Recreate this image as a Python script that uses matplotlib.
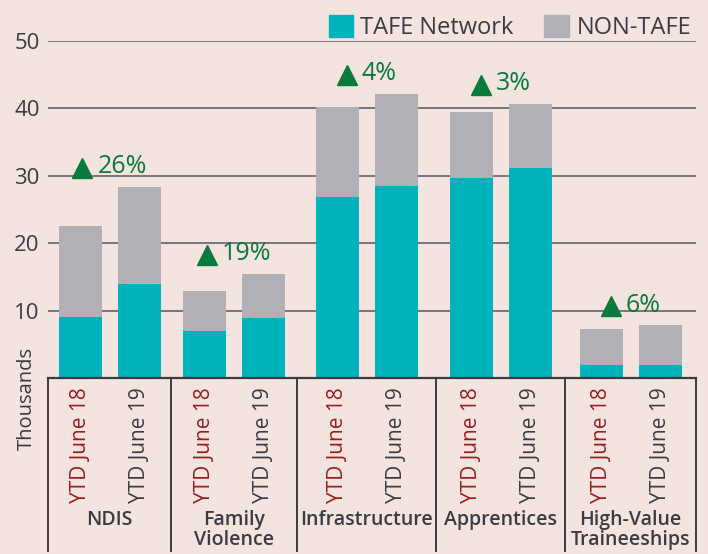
import numpy as np
import matplotlib.pyplot as plt
from matplotlib.transforms import blended_transform_factory, offset_copy
from matplotlib.patches import Patch

plt.rcParams['font.family'] = ['Open Sans', 'DejaVu Sans']

# data (thousands)
groups = ['NDIS', 'Family\nViolence', 'Infrastructure', 'Apprentices', 'High-Value\nTraineeships']
periods = ['YTD June 18', 'YTD June 19']
tafe_18 = [9.0, 6.9, 26.8, 29.6, 2.0]
tafe_19 = [14.0, 8.85, 28.5, 31.2, 2.0]
total_18 = [22.5, 12.85, 40.1, 39.5, 7.2]
total_19 = [28.3, 15.4, 42.1, 40.6, 7.8]
growth = ['26%', '19%', '4%', '3%', '6%']

bg = '#f3e4df'
teal = '#00b2bc'
grey = '#b1b0b6'
dark = '#3b3b43'
green = '#087a3b'
red = '#9a1c1c'

# layout: width of each category block (pixel-like units)
block_w = np.array([123, 126, 139, 129, 131])
edges = np.concatenate([[0], np.cumsum(block_w)])
x = (edges[:-1] + edges[1:]) / 2
off = 29.5
w = 43

fig = plt.figure(figsize=(7.08, 5.54), dpi=100, facecolor=bg)
ax = fig.add_axes([0.0678, 0.3177, 0.9153, 0.6088], facecolor=bg)

non_18 = np.array(total_18) - np.array(tafe_18)
non_19 = np.array(total_19) - np.array(tafe_19)

ax.bar(x - off, tafe_18, w, color=teal, zorder=3)
ax.bar(x - off, non_18, w, bottom=tafe_18, color=grey, zorder=3)
ax.bar(x + off, tafe_19, w, color=teal, zorder=3)
ax.bar(x + off, non_19, w, bottom=tafe_19, color=grey, zorder=3)

ax.set_xlim(edges[0], edges[-1])
ax.set_ylim(0, 50)
ax.set_yticks([10, 20, 30, 40, 50])
ax.yaxis.grid(True, color='#6e6d74', linewidth=1.3, zorder=1)
ax.tick_params(axis='y', length=0, pad=6, labelsize=16, labelcolor=dark)
for s in ['top', 'right', 'left']:
    ax.spines[s].set_visible(False)
ax.spines['bottom'].set_color(dark)
ax.spines['bottom'].set_linewidth(1.6)
ax.spines['bottom'].set_zorder(4)

# period tick labels
pos = np.sort(np.concatenate([x - off, x + off]))
ax.set_xticks(pos)
ax.set_xticklabels(periods * len(groups), rotation=90, va='top', ha='center', fontsize=15)
ax.tick_params(axis='x', length=0, pad=7)
for i, lab in enumerate(ax.get_xticklabels()):
    lab.set_color(red if i % 2 == 0 else dark)

# growth annotations: triangle + percentage, centred over each group
fig.canvas.draw()
renderer = fig.canvas.get_renderer()
tri_w, gap = 20, 5
for i, g in enumerate(growth):
    top = max(total_18[i], total_19[i]) + 3.0
    t = ax.text(x[i], top, g, ha='center', va='center', fontsize=18, color=green, zorder=5)
    tw = t.get_window_extent(renderer).width
    t.set_transform(offset_copy(ax.transData, fig, x=(tri_w + gap) / 2, y=0, units='dots'))
    dx = (tri_w + gap) / 2 - tw / 2 - gap - tri_w / 2
    ax.plot([x[i]], [top - 0.15], marker='^', markersize=14.5, color=green, zorder=5,
            clip_on=False, transform=offset_copy(ax.transData, fig, x=dx, y=0, units='dots'))

# group labels and separators
tr = blended_transform_factory(ax.transData, fig.transFigure)
for i, g in enumerate(groups):
    ax.text(x[i], 1 - 510 / 554, g, transform=tr, ha='center', va='top', fontsize=14,
            fontweight='semibold', color=dark, linespacing=1.0)
for b in edges:
    ax.plot([b, b], [1 - 378 / 554, 1 - 551 / 554], transform=tr, color=dark,
            linewidth=1.4, clip_on=False)

fig.text(0.038, 1 - 398 / 554, 'Thousands', rotation=90, ha='center', va='center',
         fontsize=14.5, color=dark)

handles = [Patch(color=teal, label='TAFE Network'), Patch(color=grey, label='NON-TAFE')]
fig.legend(handles=handles, loc='upper right', bbox_to_anchor=(1.006, 1.012), ncol=2,
           frameon=False, fontsize=17, handlelength=1.05, handleheight=1.05,
           handletextpad=0.3, columnspacing=1.3, labelcolor=dark)

fig.savefig('out.png', dpi=100, facecolor=bg)
